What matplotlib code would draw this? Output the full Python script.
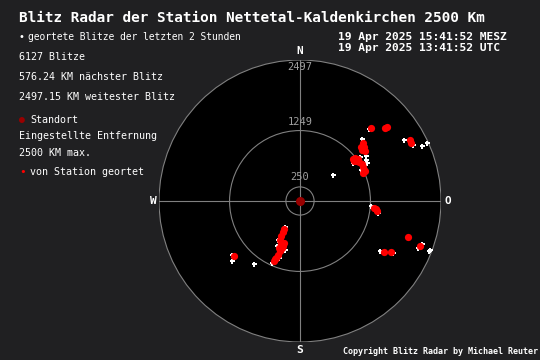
import matplotlib
matplotlib.use('Agg')
import matplotlib.pyplot as plt
from matplotlib.patches import Circle

plt.rcParams['font.family'] = ['DejaVu Sans Mono']

# radar settings (km)
max_range = 2500
ring_radii = [2497, 1249, 250]
ring_labels = ['2497', '1249', '250']

# strikes located by the station (red), x = east km, y = north km
red_x = [1117, 1135, 1099, 1152, 1082, 975, 1028, 993, 1046, 940, 958, 1099, 1117, 1135, 1117, 1152,
         1259, 1543, 1507, 1968, 1950, 1312, 1365, 1340, 1915, 1489, 1613, 2128,
         -284, -301, -337, -355, -337, -319, -355, -390, -426, -461, -301, -372, -284, -443, -1170]
red_y = [1028, 957, 904, 887, 957, 762, 745, 709, 691, 745, 709, 656, 603, 550, 496, 532,
         1294, 1312, 1294, 1028, 1082, -124, -177, -150, -638, -904, -904, -798,
         -496, -550, -621, -691, -762, -833, -887, -957, -1011, -1064, -798, -833, -745, -1030, -975]

# other located strikes (white)
white_x = [1099, 1064, 1170, 940, 1188, 1082, 1170, 1223, 1844, 2003, 2163, 2252,
           585, 1259, 1383, 1418, 1649, 2092, 2163, 2287, 2305,
           -266, -390, -266, -496, -372, -408, -1206, -1206, -816]
white_y = [1099, 780, 798, 674, 674, 550, 727, 1277, 1082, 993, 975, 1028,
           461, -89, -213, -887, -922, -833, -762, -887, -869,
           -461, -691, -869, -1099, -1011, -798, -957, -1064, -1117]

bg = '#202022'
grey = '#808080'

fig = plt.figure(figsize=(5.4, 3.6), dpi=100, facecolor=bg)

ax = fig.add_axes([159 / 540, 18 / 360, 282 / 540, 282 / 360])
ax.set_xlim(-max_range, max_range)
ax.set_ylim(-max_range, max_range)
ax.set_aspect('equal')
ax.axis('off')

ax.add_patch(Circle((0, 0), max_range, facecolor='black', edgecolor=grey, lw=0.8, zorder=0))
for r in ring_radii[1:]:
    ax.add_patch(Circle((0, 0), r, facecolor='none', edgecolor=grey, lw=0.8, zorder=1))
ax.plot([-max_range, max_range], [0, 0], color=grey, lw=0.8, zorder=1)
ax.plot([0, 0], [-max_range, max_range], color=grey, lw=0.8, zorder=1)

label_y = [2376, 1401, 425]
for lab, ly in zip(ring_labels, label_y):
    ax.text(0, ly, lab, color='#a0a0a0', fontsize=7.5, ha='center', va='center', zorder=2)

ax.plot(white_x, white_y, 'P', color='white', ms=3.6, mew=0, ls='none', zorder=3)
ax.plot(red_x, red_y, 'o', color='red', ms=5.2, mew=0, ls='none', zorder=4)
ax.plot([0], [0], 'o', color='#990000', ms=6.5, mew=0, zorder=5)

# compass letters
def px(x, y):
    return x / 540, 1 - y / 360

for t, (x, y) in [('N', (300, 51)), ('S', (300, 350)), ('W', (153, 201)), ('O', (448, 201))]:
    fig.text(*px(x, y), t, color='white', fontsize=8, fontweight='bold', ha='center', va='center')

fig.text(*px(19, 18), 'Blitz Radar der Station Nettetal-Kaldenkirchen 2500 Km',
         color='white', fontsize=10.4, fontweight='bold', va='center')

fig.text(*px(19, 37), '•', color='white', fontsize=7, va='center')
fig.text(*px(28, 37), 'geortete Blitze der letzten 2 Stunden', color='white', fontsize=6.9, va='center')
fig.text(*px(19, 57), '6127 Blitze', color='white', fontsize=7.2, va='center')
fig.text(*px(19, 77), '576.24 KM nächster Blitz', color='white', fontsize=7.2, va='center')
fig.text(*px(19, 97), '2497.15 KM weitester Blitz', color='white', fontsize=7.2, va='center')
fig.text(*px(22, 120), '●', color='#990000', fontsize=7, ha='center', va='center')
fig.text(*px(30, 120), 'Standort', color='white', fontsize=7.2, va='center')
fig.text(*px(19, 136), 'Eingestellte Entfernung', color='white', fontsize=7.2, va='center')
fig.text(*px(19, 153), '2500 KM max.', color='white', fontsize=7.2, va='center')
fig.text(*px(23, 172), '•', color='red', fontsize=8, ha='center', va='center')
fig.text(*px(30, 172), 'von Station geortet', color='white', fontsize=7.2, va='center')

fig.text(*px(338, 37), '19 Apr 2025 15:41:52 MESZ', color='white', fontsize=8.1, fontweight='bold', va='center')
fig.text(*px(338, 48), '19 Apr 2025 13:41:52 UTC', color='white', fontsize=8.1, fontweight='bold', va='center')

fig.text(*px(343, 352), 'Copyright Blitz Radar by Michael Reuter', color='white', fontsize=6,
         fontweight='bold', va='center')

fig.savefig('out.png', dpi=100, facecolor=bg)
